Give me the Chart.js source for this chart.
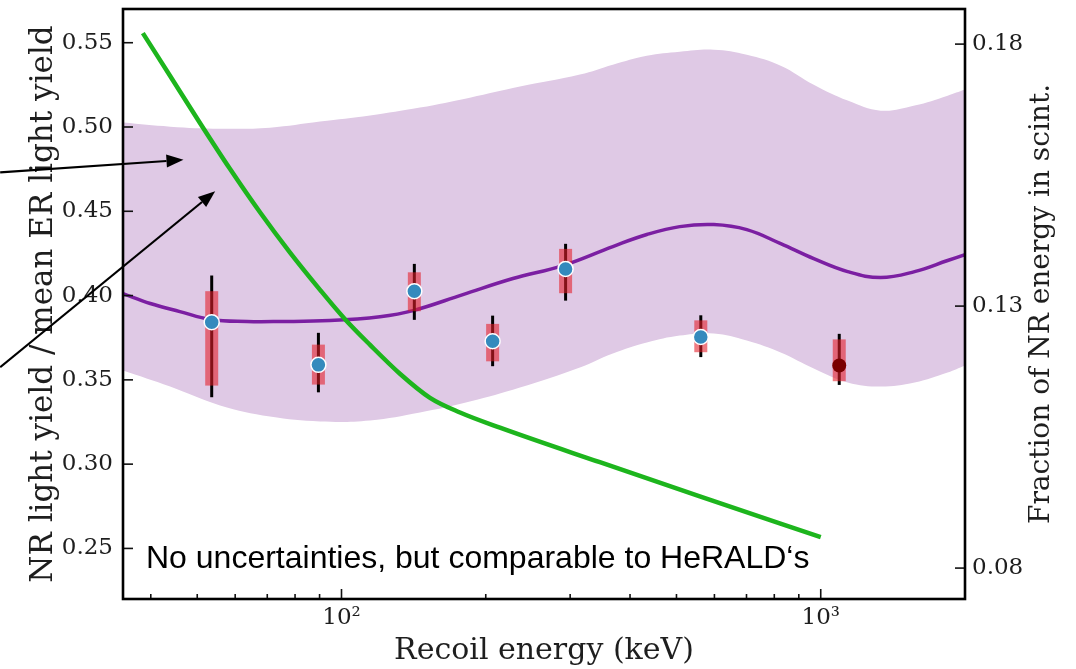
<!DOCTYPE html>
<html>
<head>
<meta charset="utf-8">
<script src="https://cdn.jsdelivr.net/npm/chart.js@4.4.1/dist/chart.umd.min.js"></script>
<style>
  html, body { margin: 0; padding: 0; background: #fff; }
</style>
</head>
<body>
<canvas id="lyChart" width="1076" height="669"></canvas>
<script>
// measured NR light yield (recoil energy in keV)
const measE      = [53.6, 89.5, 141.9, 206.7, 293.5, 562];
const measY      = [0.3842, 0.3589, 0.4026, 0.3729, 0.4158, 0.3754];
const measStatLo = [0.3397, 0.3426, 0.3856, 0.3581, 0.3970, 0.3635];
const measStatHi = [0.4119, 0.3779, 0.4188, 0.3881, 0.4307, 0.3883];
const measSysLo  = [0.3466, 0.3472, 0.3907, 0.3610, 0.4014, 0.3664];
const measSysHi  = [0.4026, 0.3709, 0.4138, 0.3832, 0.4277, 0.3853];

// the extra high energy point
const extraE      = [1093];
const extraY      = [0.3585];
const extraStatLo = [0.3470];
const extraStatHi = [0.3773];
const extraSysLo  = [0.3492];
const extraSysHi  = [0.3740];

// fit curve
const fitE = [35, 39.9, 46, 53.4, 63.5, 74.4, 94.6, 120.3, 141, 179.2, 227.9, 289.6, 368.3,
              433.6, 507.9, 598.3, 701, 825, 967, 1138, 1334, 1570, 1840, 2000];
const fitY = [0.4012, 0.3953, 0.3905, 0.3858, 0.3846, 0.3846, 0.3852, 0.3875, 0.3911, 0.4006,
              0.4101, 0.4178, 0.4291, 0.4362, 0.4409, 0.4421, 0.4391, 0.4308, 0.4219, 0.4142,
              0.4107, 0.4142, 0.4208, 0.4243];

// fit uncertainty band
const bandE  = [35, 43.9, 55.8, 70.9, 90.2, 114.7, 145.8, 185.3, 235.7, 314.4, 368.3, 433.6,
                507.9, 598.3, 701, 825, 967, 1138, 1334, 1570, 1840, 2000];
const bandHi = [0.5026, 0.5002, 0.4990, 0.4996, 0.5032, 0.5068, 0.5115, 0.5174, 0.5240, 0.5311,
                0.5370, 0.5423, 0.5447, 0.5459, 0.5429, 0.5364, 0.5251, 0.5157, 0.5097, 0.5127,
                0.5186, 0.5222];
const bandLo = [0.3555, 0.3460, 0.3348, 0.3282, 0.3253, 0.3259, 0.3306, 0.3371, 0.3454, 0.3573,
                0.3656, 0.3721, 0.3763, 0.3775, 0.3733, 0.3662, 0.3567, 0.3484, 0.3460, 0.3484,
                0.3543, 0.3585];

// fraction of NR energy in scintillation (right axis)
const fracE = [38.5, 43.9, 50.7, 58.5, 67.6, 78.1, 90.2, 101.7, 114.7, 132.4, 153, 176.7, 214.1,
               346, 559.3, 1000];
const fracY = [0.1821, 0.1739, 0.1649, 0.1562, 0.1479, 0.1402, 0.1331, 0.1275, 0.1226, 0.1171,
               0.1125, 0.1097, 0.1068, 0.1002, 0.0937, 0.0859];

const xMajorTicks = [100, 1000];
const xMinorTicks = [40, 50, 60, 70, 80, 90, 200, 300, 400, 500, 600, 700, 800, 900];
const yTicks  = [0.25, 0.30, 0.35, 0.40, 0.45, 0.50, 0.55];
const y2Ticks = [0.08, 0.13, 0.18];

const rightTitle = 'Fraction of NR energy in scint.';
const note = 'No uncertainties, but comparable to HeRALD\u2018s';

// arrows coming in from the slide, in data units [E0, y0, E1, y1]
const arrows = [
  [19.4, 0.4731, 46.8, 0.4805],
  [19.4, 0.3575, 54.5, 0.4619]
];

const serif = '"DejaVu Serif", serif';
const textColor = '#1e1e1e';
const zip = (xs, ys) => xs.map((x, i) => ({x: x, y: ys[i]}));

// error bars: black stat line, translucent red box for sys
const errorBars = {
  id: 'errorBars',
  beforeDatasetDraw(chart, args) {
    const ds = chart.data.datasets[args.index];
    if (!ds.err) return;
    const c = chart.ctx, xs = chart.scales.x, ys = chart.scales.y;
    c.save();
    ds.data.forEach((p, i) => {
      const px = xs.getPixelForValue(p.x);
      c.strokeStyle = '#000';
      c.lineWidth = 3;
      c.beginPath();
      c.moveTo(px, ys.getPixelForValue(ds.err.statLo[i]));
      c.lineTo(px, ys.getPixelForValue(ds.err.statHi[i]));
      c.stroke();
      const top = ys.getPixelForValue(ds.err.sysHi[i]);
      const bot = ys.getPixelForValue(ds.err.sysLo[i]);
      c.fillStyle = 'rgba(228, 30, 40, 0.58)';
      c.fillRect(px - 6.5, top, 13, bot - top);
    });
    c.restore();
  }
};

const decorations = {
  id: 'decorations',
  afterDatasetsDraw(chart) {
    const c = chart.ctx, a = chart.chartArea;
    c.save();
    c.fillStyle = '#000';
    c.font = '32px "Liberation Sans", Arial, sans-serif';
    c.textBaseline = 'alphabetic';
    c.fillText(note, a.left + 23, a.bottom - 31);
    c.restore();
  },
  afterDraw(chart) {
    const c = chart.ctx, a = chart.chartArea;
    const xs = chart.scales.x, ys = chart.scales.y, y2 = chart.scales.y2;
    c.save();
    // right axis title, reading bottom to top like the left one
    c.save();
    c.translate(y2.right - 34, (a.top + a.bottom) / 2);
    c.rotate(-Math.PI / 2);
    c.fillStyle = textColor;
    c.font = '28px ' + serif;
    c.textAlign = 'center';
    c.textBaseline = 'middle';
    c.fillText(rightTitle, 0, 0);
    c.restore();
    c.strokeStyle = '#111';
    c.lineWidth = 1.6;
    // inward ticks
    xs.ticks.forEach(t => {
      const px = xs.getPixelForValue(t.value);
      const len = t.major ? 10 : 5;
      c.beginPath(); c.moveTo(px, a.bottom); c.lineTo(px, a.bottom - len); c.stroke();
    });
    ys.ticks.forEach(t => {
      const py = ys.getPixelForValue(t.value);
      c.beginPath(); c.moveTo(a.left, py); c.lineTo(a.left + 10, py); c.stroke();
    });
    y2.ticks.forEach(t => {
      const py = y2.getPixelForValue(t.value);
      c.beginPath(); c.moveTo(a.right, py); c.lineTo(a.right - 10, py); c.stroke();
    });
    // frame
    c.lineWidth = 2.6;
    c.strokeStyle = '#000';
    c.strokeRect(a.left, a.top, a.right - a.left, a.bottom - a.top);
    // arrows
    c.lineWidth = 2.2;
    c.fillStyle = '#000';
    arrows.forEach(ar => {
      const x0 = xs.getPixelForValue(ar[0]), y0 = ys.getPixelForValue(ar[1]);
      const x1 = xs.getPixelForValue(ar[2]), y1 = ys.getPixelForValue(ar[3]);
      const ang = Math.atan2(y1 - y0, x1 - x0);
      const hl = 17, hw = 6.5;
      const bx = x1 - hl * Math.cos(ang), by = y1 - hl * Math.sin(ang);
      c.beginPath(); c.moveTo(x0, y0); c.lineTo(bx, by); c.stroke();
      c.beginPath();
      c.moveTo(x1, y1);
      c.lineTo(bx + hw * Math.sin(ang), by - hw * Math.cos(ang));
      c.lineTo(bx - hw * Math.sin(ang), by + hw * Math.cos(ang));
      c.closePath();
      c.fill();
    });
    c.restore();
  }
};

const ctx = document.getElementById('lyChart').getContext('2d');
const lyChart = new Chart(ctx, {
  type: 'line',
  data: {
    datasets: [
      {
        label: 'data',
        data: zip(measE, measY),
        showLine: false,
        pointRadius: 7.5,
        pointBackgroundColor: '#348abd',
        pointBorderColor: '#fff',
        pointBorderWidth: 1.5,
        err: {statLo: measStatLo, statHi: measStatHi, sysLo: measSysLo, sysHi: measSysHi}
      },
      {
        label: 'extra',
        data: zip(extraE, extraY),
        showLine: false,
        pointRadius: 7,
        pointBackgroundColor: '#7a0000',
        pointBorderColor: '#7a0000',
        pointBorderWidth: 0,
        err: {statLo: extraStatLo, statHi: extraStatHi, sysLo: extraSysLo, sysHi: extraSysHi}
      },
      {
        label: 'fraction',
        data: zip(fracE, fracY),
        yAxisID: 'y2',
        borderColor: '#1db51d',
        borderWidth: 4.5,
        pointRadius: 0,
        cubicInterpolationMode: 'monotone'
      },
      {
        label: 'fit',
        data: zip(fitE, fitY),
        borderColor: '#7b1fa2',
        borderWidth: 3.5,
        pointRadius: 0,
        tension: 0.4
      },
      {
        label: 'band hi',
        data: zip(bandE, bandHi),
        borderWidth: 0,
        pointRadius: 0,
        tension: 0.4,
        fill: '+1',
        backgroundColor: '#dfc9e5'
      },
      {
        label: 'band lo',
        data: zip(bandE, bandLo),
        borderWidth: 0,
        pointRadius: 0,
        tension: 0.4,
        fill: false
      }
    ]
  },
  options: {
    responsive: false,
    animation: false,
    layout: {padding: {top: 9, left: 0, right: 0, bottom: 0}},
    plugins: {
      legend: {display: false},
      tooltip: {enabled: false}
    },
    scales: {
      x: {
        type: 'logarithmic',
        position: 'bottom',
        min: 35,
        max: 2000,
        grid: {display: false, drawTicks: false},
        border: {display: false},
        afterBuildTicks: s => {
          s.ticks = [...xMinorTicks, ...xMajorTicks].sort((p, q) => p - q)
            .map(v => ({value: v, major: xMajorTicks.includes(v)}));
        },
        afterFit: s => { s.height = 70; s.paddingLeft = 0; s.paddingRight = 0; },
        ticks: {
          autoSkip: false,
          maxRotation: 0,
          padding: 5,
          color: textColor,
          font: {family: serif, size: 23},
          callback: v => v === 100 ? '10\u00b2' : (v === 1000 ? '10\u00b3' : '')
        },
        title: {
          display: true,
          text: 'Recoil energy (keV)',
          color: textColor,
          font: {family: serif, size: 30},
          padding: {top: 0, bottom: 0}
        }
      },
      y: {
        position: 'left',
        min: 0.22,
        max: 0.57,
        grid: {display: false, drawTicks: false},
        border: {display: false},
        afterBuildTicks: s => { s.ticks = yTicks.map(v => ({value: v})); },
        afterFit: s => { s.width = 123; s.paddingTop = 0; s.paddingBottom = 0; },
        ticks: {
          padding: 10,
          color: textColor,
          font: {family: serif, size: 23},
          callback: v => v.toFixed(2)
        },
        title: {
          display: true,
          text: 'NR light yield / mean ER light yield',
          color: textColor,
          font: {family: serif, size: 31},
          padding: {top: 25, bottom: 0}
        }
      },
      y2: {
        position: 'right',
        min: 0.0741,
        max: 0.1867,
        grid: {display: false, drawTicks: false},
        border: {display: false},
        afterBuildTicks: s => { s.ticks = y2Ticks.map(v => ({value: v})); },
        afterFit: s => { s.width = 111; s.paddingTop = 0; s.paddingBottom = 0; },
        ticks: {
          padding: 7,
          color: textColor,
          font: {family: serif, size: 23},
          callback: v => v.toFixed(2)
        },
        title: {display: false}
      }
    }
  },
  plugins: [errorBars, decorations]
});
</script>
</body>
</html>
